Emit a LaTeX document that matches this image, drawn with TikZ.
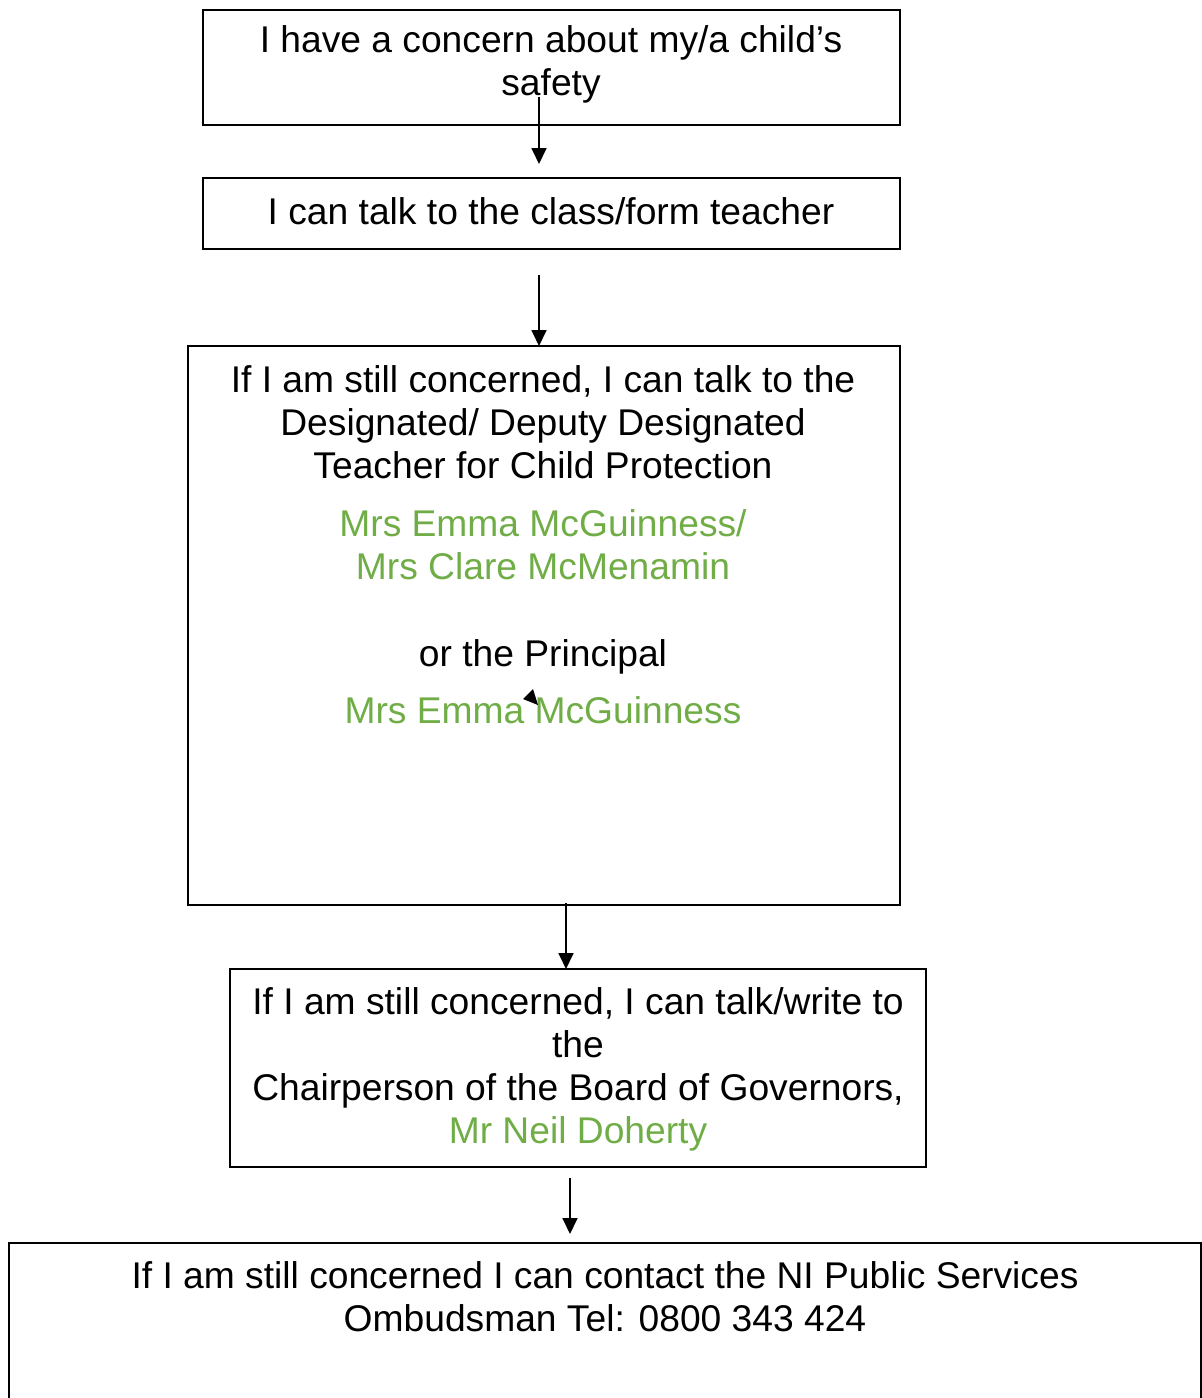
\documentclass[tikz,border=0pt]{standalone}
\usepackage{fontspec}
\setmainfont{Liberation Sans}
\usetikzlibrary{arrows.meta}
\definecolor{offgreen}{HTML}{70AD47}
\begin{document}
\begin{tikzpicture}[x=1pt,y=-1pt,
  box/.style={draw,line width=2pt},
  txt/.style={anchor=base,inner sep=0pt,align=center,font=\fontsize{37.2}{43}\selectfont},
  gtxt/.style={txt,text=offgreen},
  conn/.style={line width=1.8pt,-{Triangle[length=16pt,width=15pt]}}]
\useasboundingbox (0,0) rectangle (1202,1398);
% boxes
\draw[box] (203,10) rectangle (900,125);
\draw[box] (203,178) rectangle (900,249);
\draw[box] (188,346) rectangle (900,905);
\draw[box] (230,969) rectangle (926,1167);
\draw[box] (9,1420) -- (9,1243) -- (1201,1243) -- (1201,1420);
% texts (anchor = baseline of last line)
\node[txt] (t1) at (551,95) {I have a concern about my/a child’s\\safety};
\node[txt] (t2) at (551,224) {I can talk to the class/form teacher};
\node[txt] (t3) at (543,478) {If I am still concerned, I can talk to the\\Designated/ Deputy Designated\\Teacher for Child Protection};
\node[gtxt] (t3g) at (543,579) {Mrs Emma McGuinness/\\Mrs Clare McMenamin};
\node[txt] (t3p) at (543,666) {or the Principal};
\node[gtxt] (t3h) at (543,723) {Mrs Emma McGuinness};
\node[txt] (t4) at (578,1100) {If I am still concerned, I can talk/write to\\the\\Chairperson of the Board of Governors,};
\node[gtxt] (t4g) at (578,1143) {Mr Neil Doherty};
\node[txt] (t5) at (605,1331) {If I am still concerned I can contact the NI Public Services\\Ombudsman Tel: 0800 343 424};
% connectors
\coordinate (a1s) at (539,97);  \coordinate (a1e) at (539,164);
\coordinate (a2s) at (539,275); \coordinate (a2e) at (539,346);
\coordinate (a3s) at (566,903); \coordinate (a3e) at (566,969);
\coordinate (a4s) at (570,1178); \coordinate (a4e) at (570,1234);
\draw[conn] (a1s) -- (a1e);
\draw[conn] (a2s) -- (a2e);
\draw[conn] (a3s) -- (a3e);
\draw[conn] (a4s) -- (a4e);
% stray small arrowhead
\fill (523,699) -- (533,689) -- (538,705) -- cycle;
\end{tikzpicture}
\end{document}
